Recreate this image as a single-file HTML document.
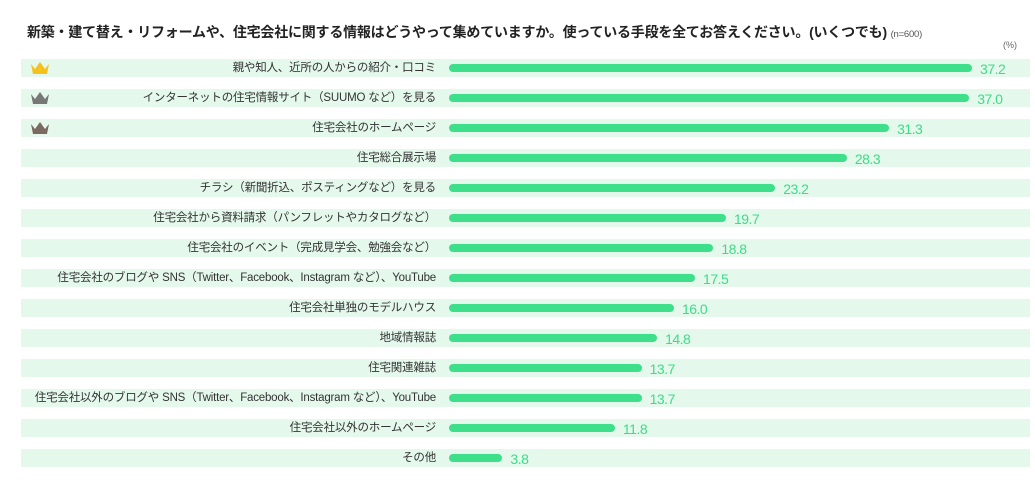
<!DOCTYPE html>
<html><head><meta charset="utf-8"><style>
body{margin:0;width:1035px;height:490px;background:#fff;position:relative;overflow:hidden;font-family:"Liberation Sans","Noto Sans CJK JP",sans-serif;}
.t{position:absolute;left:27px;top:22px;font-size:14px;font-weight:bold;color:#222;white-space:nowrap;letter-spacing:-0.22px}
.t small{font-size:9.5px;font-weight:normal;color:#555}
.pct{position:absolute;left:1003px;top:40px;font-size:9px;color:#666}
.band{position:absolute;left:21px;width:1009px;height:18px;background:#e5f8ec}
.lab{position:absolute;right:599px;font-size:11.5px;color:#333;white-space:nowrap;letter-spacing:-0.2px;line-height:18px}
.bar{position:absolute;left:449px;height:8px;border-radius:4px;background:#3ddf8a}
.val{position:absolute;font-size:14px;color:#3ddc8a;line-height:18px;letter-spacing:-0.5px}
svg{position:absolute;left:30px}
</style></head><body>
<div class="t">新築・建て替え・リフォームや、住宅会社に関する情報はどうやって集めていますか。使っている手段を全てお答えください。(いくつでも) <small>(n=600)</small></div>
<div class="pct">(%)</div>
<div id="c"></div>
<script>
var d=[["親や知人、近所の人からの紹介・口コミ",37.2],["インターネットの住宅情報サイト（SUUMO など）を見る",37.0],["住宅会社のホームページ",31.3],["住宅総合展示場",28.3],["チラシ（新聞折込、ポスティングなど）を見る",23.2],["住宅会社から資料請求（パンフレットやカタログなど）",19.7],["住宅会社のイベント（完成見学会、勉強会など）",18.8],["住宅会社のブログや SNS（Twitter、Facebook、Instagram など）、YouTube",17.5],["住宅会社単独のモデルハウス",16.0],["地域情報誌",14.8],["住宅関連雑誌",13.7],["住宅会社以外のブログや SNS（Twitter、Facebook、Instagram など）、YouTube",13.7],["住宅会社以外のホームページ",11.8],["その他",3.8]];
var cols=["#f5c11c","#777","#7a6a62"];
var h="";
d.forEach(function(r,i){var y=59+i*30;var w=r[1]*14.06;
h+='<div class="band" style="top:'+y+'px"></div>';
h+='<div class="lab" style="top:'+y+'px">'+r[0]+'</div>';
h+='<div class="bar" style="top:'+(y+5)+'px;width:'+w+'px"></div>';
h+='<div class="val" style="top:'+(y+1)+'px;left:'+(449+w+8)+'px">'+r[1].toFixed(1)+'</div>';
if(i<3)h+='<svg style="top:'+(y+3)+'px" width="20" height="12" viewBox="0 0 20 12"><path d="M1 2 L5 7 L10 0 L15 7 L19 2 L17 12 L3 12Z" fill="'+cols[i]+'"/></svg>';
});
document.getElementById("c").innerHTML=h;
</script>
</body></html>
